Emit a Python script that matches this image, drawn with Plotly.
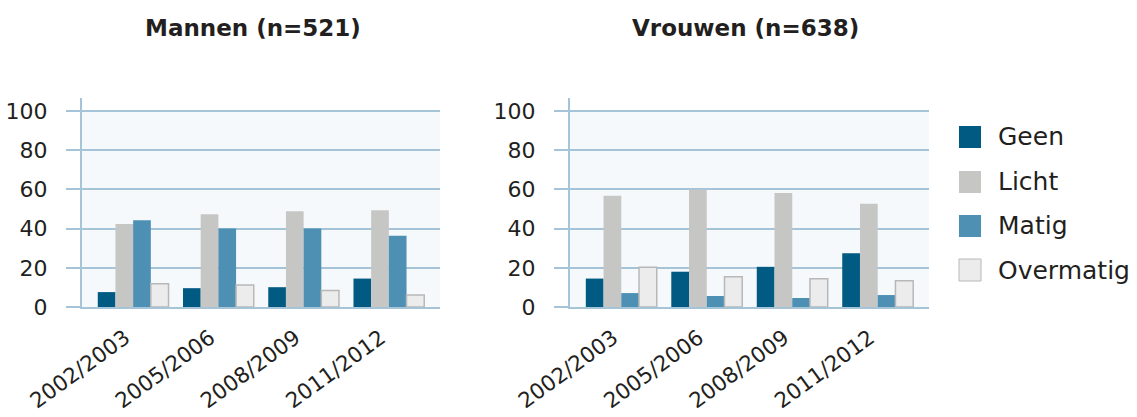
import plotly.graph_objects as go

# ---- data ----
periods = ["2002/2003", "2005/2006", "2008/2009", "2011/2012"]
series_names = ["Geen", "Licht", "Matig", "Overmatig"]

mannen_geen = [7.6, 9.6, 10.1, 14.5]
mannen_licht = [42.3, 47.3, 48.8, 49.3]
mannen_matig = [44.3, 40.0, 40.0, 36.4]
mannen_overmatig = [11.9, 11.2, 8.4, 6.1]

vrouwen_geen = [14.5, 18.0, 20.5, 27.4]
vrouwen_licht = [56.7, 59.8, 58.2, 52.7]
vrouwen_matig = [7.1, 5.6, 4.6, 6.1]
vrouwen_overmatig = [20.3, 15.4, 14.4, 13.4]

titles = ["Mannen (n=521)", "Vrouwen (n=638)"]
y_ticks = [0, 20, 40, 60, 80, 100]

# ---- styles ----
W, H = 1137, 417
FONT = "DejaVu Sans"
TXT = "#231f20"
GRID = "#a6c4d8"
BG = "#f5f9fb"
colors = ["#005a82", "#c6c6c5", "#4d90b4", "#ececec"]
line_colors = ["#005a82", "#c6c6c5", "#4d90b4", "#b8b8b8"]
line_widths = [0, 0, 0, 1.5]

def px_x(p):
    return p / W

def px_y(p):
    return 1 - p / H

fig = go.Figure()

groups = [
    ("x", "y", [mannen_geen, mannen_licht, mannen_matig, mannen_overmatig]),
    ("x2", "y2", [vrouwen_geen, vrouwen_licht, vrouwen_matig, vrouwen_overmatig]),
]
for xa, ya, vals in groups:
    for name, v, c, lc, lw in zip(series_names, vals, colors, line_colors, line_widths):
        fig.add_trace(go.Bar(
            x=periods, y=v, name=name, xaxis=xa, yaxis=ya,
            marker=dict(color=c, line=dict(color=lc, width=lw)),
            showlegend=False, offsetgroup=name,
        ))

y_bottom = px_y(307)
y_top = px_y(98)
yrange = [0, 100 * (307 - 98) / (307 - 111)]

common_y = dict(
    range=yrange, tickvals=y_ticks, showgrid=True, gridcolor=GRID, gridwidth=2,
    showline=True, linecolor=GRID, linewidth=2, zeroline=False,
    ticks="outside", ticklen=14, tickcolor=GRID, tickwidth=2,
    ticklabelstandoff=14, automargin=False,
    tickfont=dict(family=FONT, size=22, color=TXT), fixedrange=True,
)
common_x = dict(
    range=[-0.6, 3.6], showline=True, linecolor=GRID, linewidth=2,
    tickangle=-36, tickfont=dict(family=FONT, size=21.5, color=TXT),
    ticks="", ticklabelstandoff=8, ticklabelshift=-8,
    showgrid=False, fixedrange=True, automargin=False,
)

fig.update_layout(
    width=W, height=H,
    margin=dict(l=0, r=0, t=0, b=0, autoexpand=False),
    paper_bgcolor="white", plot_bgcolor="white",
    barmode="group", bargap=0.17, bargroupgap=0,
    showlegend=False,
    xaxis=dict(domain=[px_x(82), px_x(440)], anchor="y", **common_x),
    xaxis2=dict(domain=[px_x(570), px_x(929)], anchor="y2", **common_x),
    yaxis=dict(domain=[y_bottom, y_top], anchor="x", **common_y),
    yaxis2=dict(domain=[y_bottom, y_top], anchor="x2", **common_y),
    font=dict(family=FONT, color=TXT),
)

# plot background only for 0..100
for xr, yr in [("x domain", "y"), ("x2 domain", "y2")]:
    fig.add_shape(type="rect", xref=xr, yref=yr, x0=0, x1=1, y0=0, y1=100,
                  fillcolor=BG, line=dict(width=0), layer="below")

# titles
for t, cx in zip(titles, [253, 745]):
    fig.add_annotation(text="<b>%s</b>" % t, x=px_x(cx), y=px_y(28), xref="paper", yref="paper",
                       showarrow=False, xanchor="center", yanchor="middle",
                       font=dict(family=FONT, size=23, color=TXT))

# manual legend
leg_y = [137, 182, 226, 270]
for name, c, lc, cy in zip(series_names, colors, line_colors, leg_y):
    fig.add_shape(type="rect", xref="paper", yref="paper",
                  x0=px_x(959), x1=px_x(981), y0=px_y(cy + 11), y1=px_y(cy - 11),
                  fillcolor=c, line=dict(color=lc, width=1 if c == "#ececec" else 0))
    fig.add_annotation(text=name, x=px_x(996), y=px_y(cy), xref="paper", yref="paper",
                       showarrow=False, xanchor="left", yanchor="middle",
                       font=dict(family=FONT, size=25, color=TXT))

fig.write_html("out.html", config={"displayModeBar": False},
               post_script="document.body.style.margin='0px';document.body.style.overflow='hidden';")
